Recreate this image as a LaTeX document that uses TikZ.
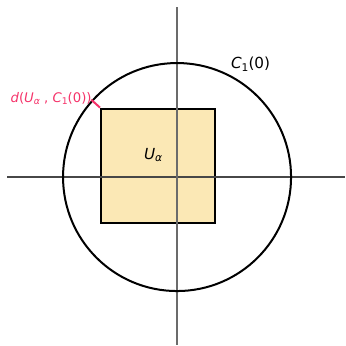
\documentclass[tikz,border=0pt]{standalone}
\usepackage{fontspec}
\setmainfont{DejaVu Sans}
\newfontfamily\plotfont{DejaVu Sans}
\usepackage{xcolor}
\definecolor{setfill}{HTML}{FBE8B5}
\definecolor{distred}{HTML}{F5336A}
\usepackage{tikz}
\usetikzlibrary{calc}
\newcommand{\lowsub}[1]{\raisebox{-0.35ex}{\scalebox{0.7}{#1}}}

\begin{document}
\begin{tikzpicture}[x=2cm,y=2cm,
  axisline/.style={line width=0.6pt},
  lbl/.style={inner sep=0pt,font=\plotfont\fontsize{7.6}{9}\selectfont}]
\useasboundingbox (-1.553,-1.482) rectangle (1.474,1.553);
% set U_alpha
\node[draw,line width=1pt,fill=setfill,minimum width=2cm,minimum height=2cm,inner sep=0pt] (ua) at (-0.1667,0.1) {};
% axes
\coordinate (xl) at (-1.491,0);
\coordinate (xr) at (1.474,0);
\coordinate (yt) at (0,1.491);
\coordinate (yb) at (0,-1.474);
\draw[axisline,black!72] (xl) -- (xr);
\draw[axisline,black!58] (yt) -- (yb);
% unit circle
\coordinate (o) at (0,0);
\draw[line width=1pt] (o) circle[radius=1];
\coordinate (cq) at ($(o)!{1/0.8975}!(ua.north west)$);
\draw[distred,line width=1pt] (ua.north west) -- (cq);
\node[lbl] (uname) at (-0.21,0.193) {\itshape U\lowsub{α}};
\node[lbl] (cname) at (0.645,0.987) {\itshape C\lowsub{\upshape 1}\upshape(0)};
\node[lbl,anchor=east,text=distred,font=\plotfont\fontsize{6.6}{8}\selectfont] (dname) at (-0.746,0.689) {\itshape d\upshape(\itshape U\lowsub{α}\upshape\ , \itshape C\lowsub{\upshape 1}\upshape(0))};
\end{tikzpicture}
\end{document}
